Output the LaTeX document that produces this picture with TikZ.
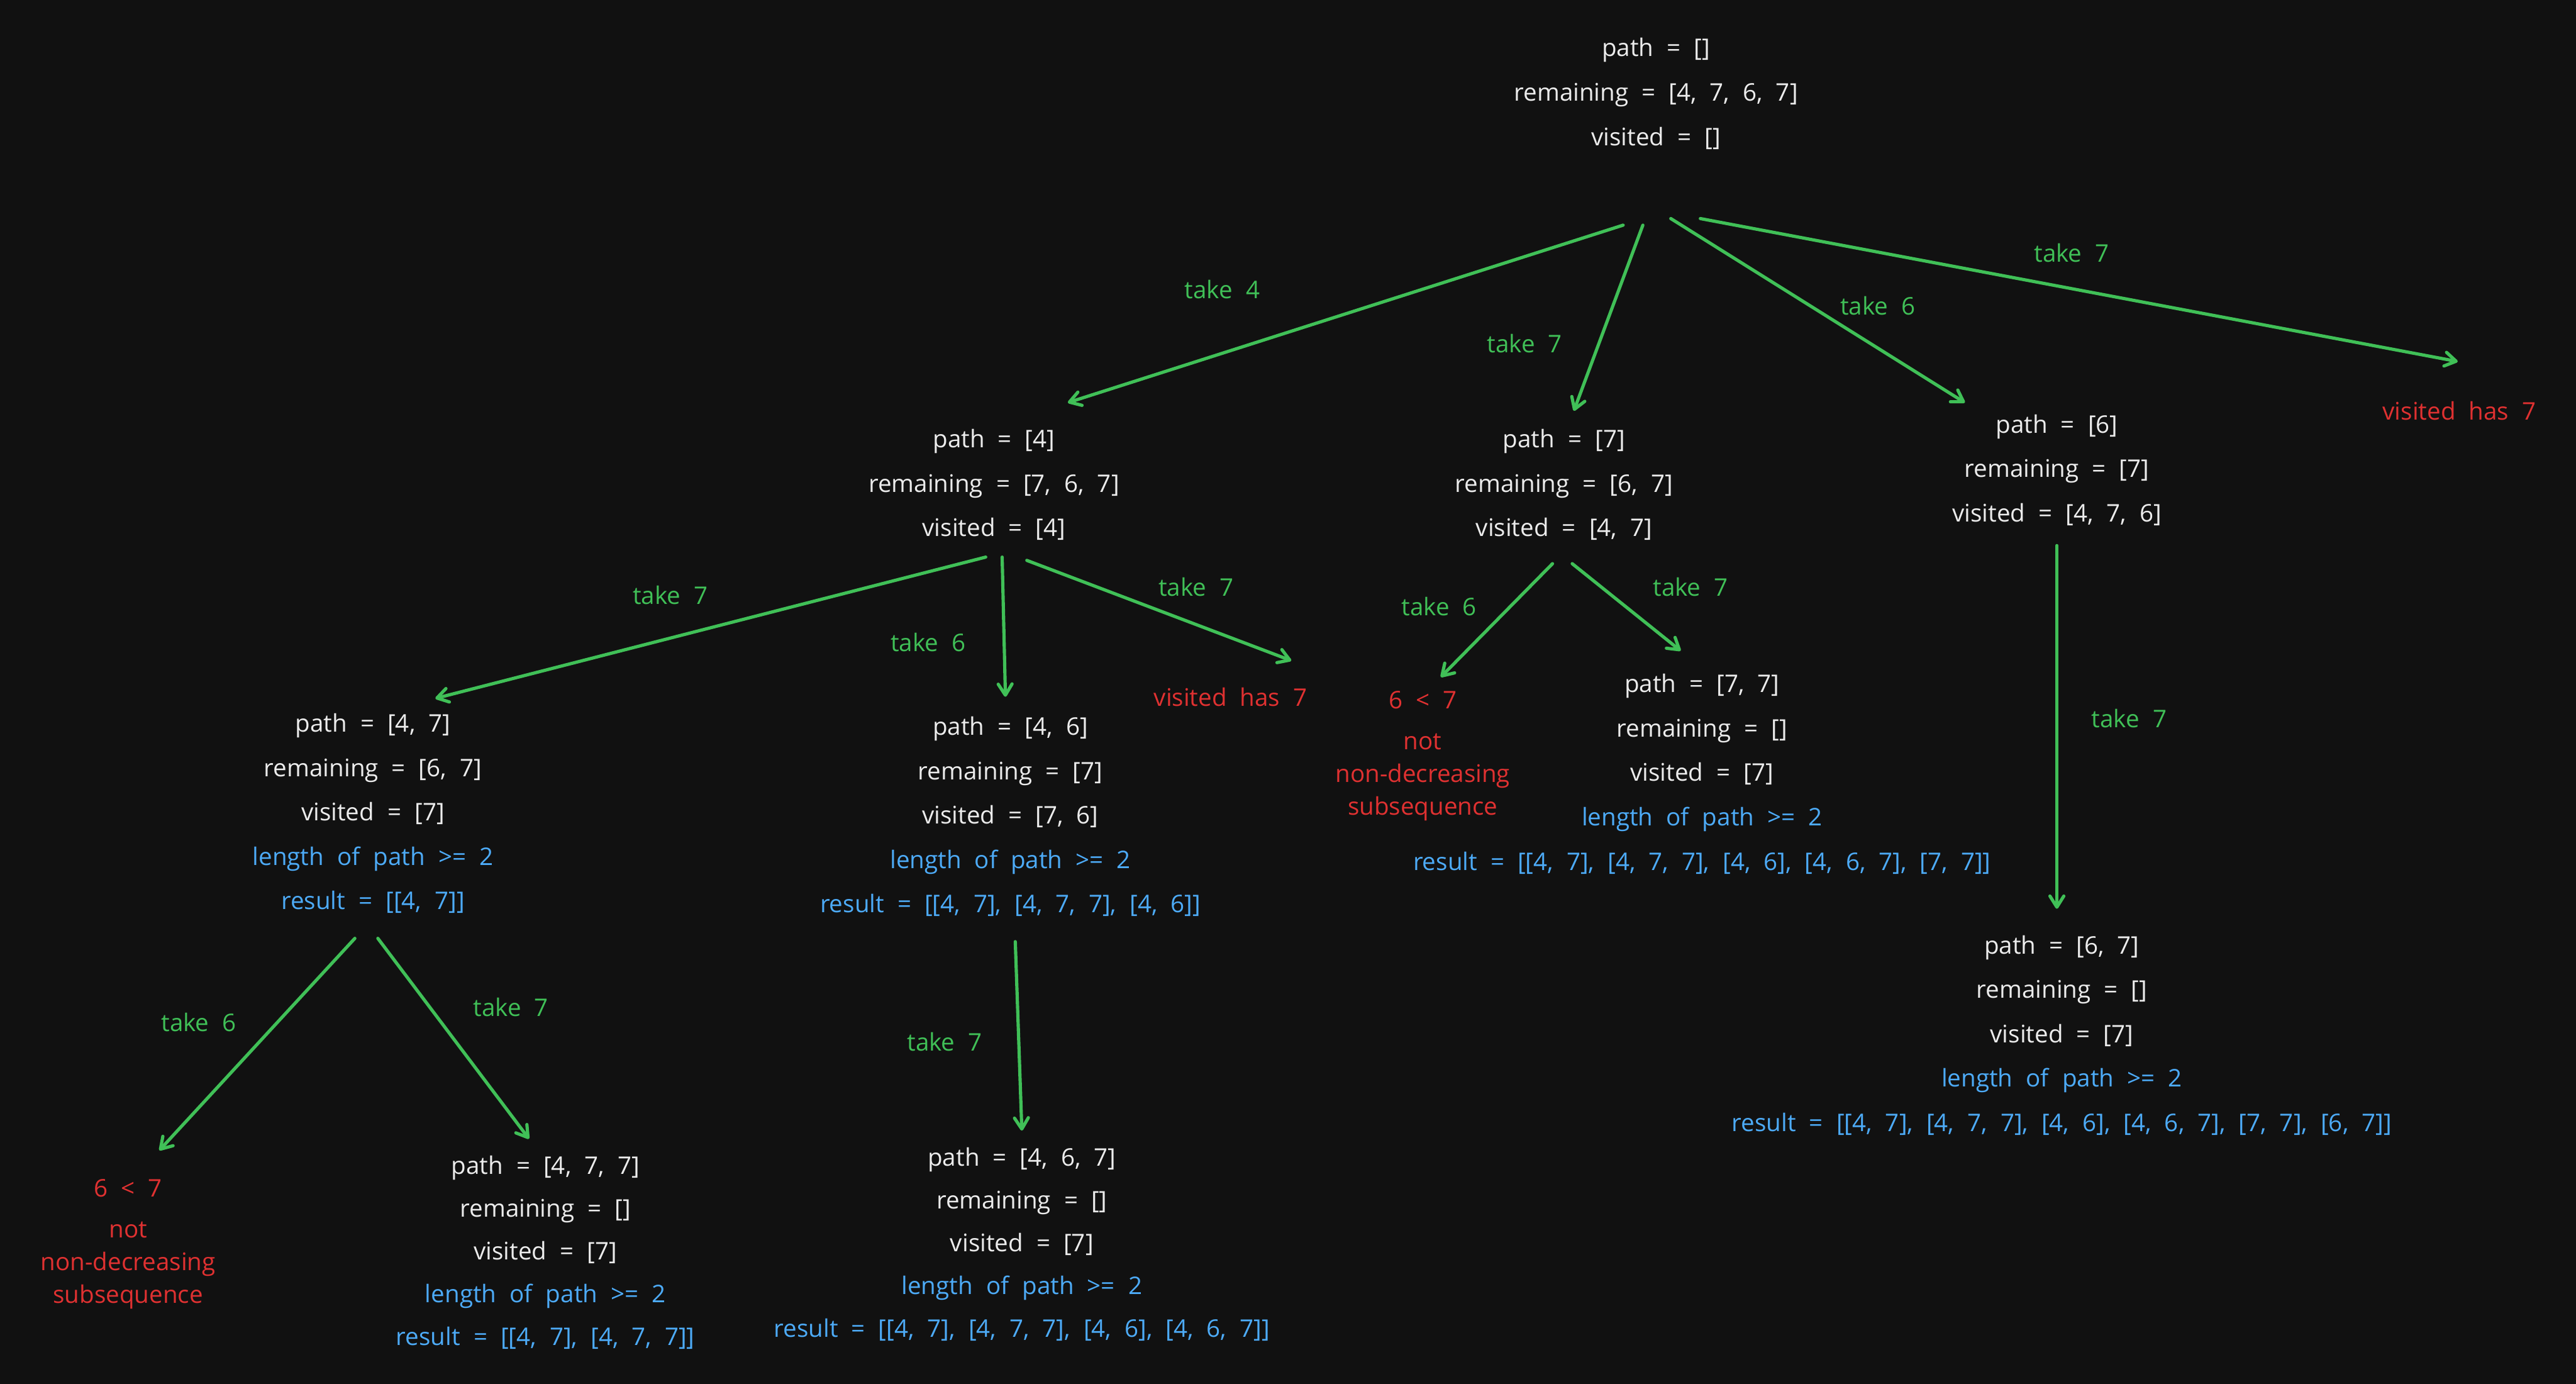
\documentclass[tikz,border=0pt]{standalone}
\usepackage{fontspec}
\setmainfont{Open Sans}[WordSpace=2.1]
\usetikzlibrary{calc, arrows.meta}
\definecolor{bgcol}{HTML}{111111}
\definecolor{statecol}{HTML}{ECECEC}
\definecolor{takecol}{HTML}{40C057}
\definecolor{failcol}{HTML}{E03131}
\definecolor{rescol}{HTML}{4DABF7}
\tikzstyle{state} = [align=center, text=statecol, inner sep=0pt, font=\fontsize{10.5}{19.2}\selectfont]
\tikzstyle{fail} = [align=center, text=failcol, inner sep=0pt, font=\fontsize{10.5}{14.2}\selectfont]
\tikzstyle{take} = [text=takecol, inner sep=0pt, font=\fontsize{10.5}{12}\selectfont]
\tikzstyle{arrow} = [draw=takecol, line width=1.4pt, line cap=round, -{Straight Barb[length=4.8pt,width=6pt,round]}]
\newcommand{\res}{\color{rescol}}

\begin{document}
\begin{tikzpicture}[x=0.025cm, y=-0.025cm]
	\useasboundingbox (0,0) rectangle (1568,842);
	\fill[bgcol] (0,0) rectangle (1568,842);

	%定义各状态节点
	\node (root) [state] at (1008,57) {path = []\\ remaining = [4, 7, 6, 7]\\ visited = []};
	\node (n4) [state] at (605,295) {path = [4]\\ remaining = [7, 6, 7]\\ visited = [4]};
	\node (n7) [state] at (952,295) {path = [7]\\ remaining = [6, 7]\\ visited = [4, 7]};
	\node (n6) [state] at (1252,286) {path = [6]\\ remaining = [7]\\ visited = [4, 7, 6]};
	\node (has1) [fail] at (1497,250) {visited has 7};
	\node (n47) [state] at (227,495) {path = [4, 7]\\ remaining = [6, 7]\\ visited = [7]\\ \res length of path >= 2\\ \res result = [[4, 7]]};
	\node (n46) [state] at (615,497) {path = [4, 6]\\ remaining = [7]\\ visited = [7, 6]\\ \res length of path >= 2\\ \res result = [[4, 7], [4, 7, 7], [4, 6]]};
	\node (has2) [fail] at (749,424) {visited has 7};
	\node (dec1) [fail] at (866,460) {6 < 7\\[3.5pt] not\\ non-decreasing\\ subsequence};
	\node (n77) [state] at (1036,471) {path = [7, 7]\\ remaining = []\\ visited = [7]\\ \res length of path >= 2\\ \res result = [[4, 7], [4, 7, 7], [4, 6], [4, 6, 7], [7, 7]]};
	\node (n67) [state] at (1255,630) {path = [6, 7]\\ remaining = []\\ visited = [7]\\ \res length of path >= 2\\ \res result = [[4, 7], [4, 7, 7], [4, 6], [4, 6, 7], [7, 7], [6, 7]]};
	\node (dec2) [fail] at (78,757) {6 < 7\\[3.5pt] not\\ non-decreasing\\ subsequence};
	\node (n477) [state, font=\fontsize{10.5}{18.5}\selectfont] at (332,762) {path = [4, 7, 7]\\ remaining = []\\ visited = [7]\\ \res length of path >= 2\\ \res result = [[4, 7], [4, 7, 7]]};
	\node (n467) [state, font=\fontsize{10.5}{18.5}\selectfont] at (622,757) {path = [4, 6, 7]\\ remaining = []\\ visited = [7]\\ \res length of path >= 2\\ \res result = [[4, 7], [4, 7, 7], [4, 6], [4, 6, 7]]};

	%分支标签
	\node (t1) [take] at (744,176) {take 4};
	\node (t2) [take] at (928,209) {take 7};
	\node (t3) [take] at (1143,186) {take 6};
	\node (t4) [take] at (1261,154) {take 7};
	\node (t5) [take] at (408,362) {take 7};
	\node (t6) [take] at (565,391) {take 6};
	\node (t7) [take] at (728,357) {take 7};
	\node (t8) [take] at (876,369) {take 6};
	\node (t9) [take] at (1029,357) {take 7};
	\node (t10) [take] at (1296,437) {take 7};
	\node (t11) [take] at (121,622) {take 6};
	\node (t12) [take] at (311,613) {take 7};
	\node (t13) [take] at (575,634) {take 7};

	%连接各节点
	\draw [arrow] ($(root)+(-20,80)$) -- ($(n4)+(45,-50)$);
	\draw [arrow] ($(root)+(-8,80)$) -- ($(n7)+(6,-45)$);
	\draw [arrow] ($(root)+(9,76)$) -- ($(n6)+(-56,-41)$);
	\draw [arrow] ($(root)+(27,76)$) -- ($(has1)+(-1,-30)$);
	\draw [arrow] ($(n4)+(-5,44)$) -- ($(n47)+(38,-70)$);
	\draw [arrow] ($(n4)+(5,44)$) -- ($(n46)+(-3,-73)$);
	\draw [arrow] ($(n4)+(20,46)$) -- ($(has2)+(37,-22)$);
	\draw [arrow] ($(n7)+(-7,48)$) -- ($(dec1)+(11,-48)$);
	\draw [arrow] ($(n7)+(5,48)$) -- ($(n77)+(-13,-75)$);
	\draw [arrow] ($(n6)+(0,46)$) -- ($(n67)+(-3,-77)$);
	\draw [arrow] ($(n47)+(-11,76)$) -- ($(dec2)+(19,-57)$);
	\draw [arrow] ($(n47)+(3,76)$) -- ($(n477)+(-10,-69)$);
	\draw [arrow] ($(n46)+(3,76)$) -- ($(n467)+(0,-69)$);
\end{tikzpicture}
\end{document}
